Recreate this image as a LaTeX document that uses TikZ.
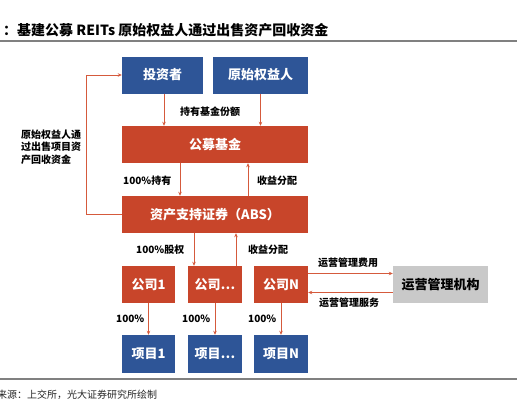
\documentclass[tikz,border=0pt]{standalone}
\usepackage{fontspec}
\setmainfont{Noto Sans CJK SC}
\usetikzlibrary{arrows.meta}
\definecolor{bluebox}{HTML}{2E5597}
\definecolor{redbox}{HTML}{C8452A}
\definecolor{greybox}{HTML}{C9C9C9}
\definecolor{arrowred}{HTML}{D55A3C}
\tikzset{
  boxnode/.style={minimum height=37pt, inner sep=0pt, text=white,
    font=\fontsize{13}{15}\selectfont\bfseries},
  bluenode/.style={boxnode, fill=bluebox},
  rednode/.style={boxnode, fill=redbox},
  lbl/.style={font=\fontsize{10}{12}\selectfont\bfseries, inner sep=0pt},
  flow/.style={draw=arrowred, line width=0.9pt, -{Stealth[length=4pt,width=3.5pt]}},
}
\begin{document}
\begin{tikzpicture}[x=1pt, y=-1pt]
\useasboundingbox (0,0) rectangle (517,415);
% title and rules
\node[anchor=west, inner sep=0pt, font=\fontsize{14}{16}\selectfont\bfseries] (title) at (3,30) {：基建公募 REITs 原始权益人通过出售资产回收资金};
\draw[gray, line width=1.2pt] (0,41) -- (517,41);
\draw[gray, line width=1.2pt] (0,379) -- (517,379);
\node[anchor=west, inner sep=0pt, font=\fontsize{10}{12}\selectfont, text=black!85] (src) at (-3,395) {来源：上交所，光大证券研究所绘制};

% boxes
\node[bluenode, minimum width=81pt] (tzz) at (162.5,75) {投资者};
\node[bluenode, minimum width=95pt] (yqr) at (260.5,75) {原始权益人};
\node[rednode, minimum width=186pt] (jj) at (215,144.5) {公募基金};
\node[rednode, minimum width=186pt] (abs) at (215,214.5) {资产支持证券（ABS）};
\node[rednode, minimum width=53pt] (gs1) at (148.5,284.5) {公司1};
\node[rednode, minimum width=54pt] (gs2) at (215,284.5) {公司…};
\node[rednode, minimum width=54pt] (gsn) at (281,284.5) {公司N};
\node[bluenode, minimum width=53pt, minimum height=38pt] (xm1) at (148.5,354) {项目1};
\node[bluenode, minimum width=54pt, minimum height=38pt] (xm2) at (215,354) {项目…};
\node[bluenode, minimum width=54pt, minimum height=38pt] (xmn) at (281,354) {项目N};
\node[boxnode, fill=greybox, text=black, minimum width=95pt] (yyjg) at (440.5,284.5) {运营管理机构};

% arrows
\draw[flow] ([xshift=1.5pt]tzz.south) -- ([xshift=1.5pt]tzz.south |- jj.north);
\draw[flow] (yqr.south) -- (yqr.south |- jj.north);
\draw[flow] ([xshift=-35pt]jj.south) -- ([xshift=-35pt]abs.north);
\draw[flow] ([xshift=33pt]abs.north) -- ([xshift=33pt]jj.south);
\draw[flow] ([xshift=-21pt]abs.south) -- ([xshift=-21pt]gs2.north);
\draw[flow] ([xshift=21pt]gs2.north) -- ([xshift=21pt]abs.south);
\draw[flow] (abs.west) -- ++(-35,0) |- (tzz.west);
\draw[flow] ([yshift=11pt]gsn.east) -- ([yshift=11pt]yyjg.west);
\draw[flow] ([yshift=-8pt]yyjg.west) -- ([yshift=-8pt]gsn.east);
\foreach \g/\x in {gs1/xm1, gs2/xm2, gsn/xmn}
  \draw[flow] (\g.south) -- (\x.north);

% labels
\node[lbl] (l1) at (210,112) {持有基金份额};
\node[lbl, anchor=west] (l2) at (123,181) {100\%持有};
\node[lbl, anchor=west] (l3) at (257,181) {收益分配};
\node[lbl, anchor=north west, align=left, font=\fontsize{10}{12.2}\selectfont\bfseries] (l4) at (21,130) {原始权益人通\\过出售项目资\\产回收资金};
\node[lbl, anchor=west] (l5) at (136,250) {100\%股权};
\node[lbl, anchor=west] (l6) at (248,250) {收益分配};
\node[lbl] (l7) at (348,263) {运营管理费用};
\node[lbl] (l8) at (349,303) {运营管理服务};
\node[lbl, anchor=west] (l9) at (116,319) {100\%};
\node[lbl, anchor=west] (l10) at (182,319) {100\%};
\node[lbl, anchor=west] (l11) at (248,319) {100\%};
\end{tikzpicture}
\end{document}
